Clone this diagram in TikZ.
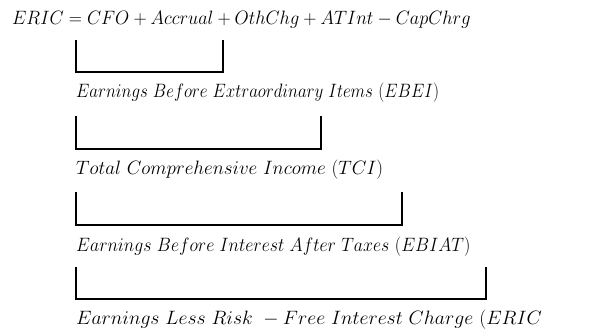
\documentclass[tikz,border=0pt]{standalone}
\usepackage{graphicx}
\begin{document}
\begin{tikzpicture}[x=1pt,y=-1pt,
  eq/.style={anchor=base west,inner sep=0pt,font=\LARGE},
  brk/.style={line width=1.4pt,line cap=rect}]
\useasboundingbox (0,0) rectangle (608,334);
\clip (0,0) rectangle (608,334);
\node[eq] (l1) at (12,25) {\scalebox{1.058}[1.12]{$ERIC = CFO + Accrual + OthChg + ATInt - CapChrg$}};
\node[eq] (l2) at (76,98) {\scalebox{0.98}[1.12]{$Earnings\ Before\ Extraordinary\ Items\ (EBEI)$}};
\node[eq] (l3) at (76,175) {\scalebox{1.10}[1.12]{$Total\ Comprehensive\ Income\ (TCI)$}};
\node[eq] (l4) at (76,251) {\scalebox{1.03}[1.12]{$Earnings\ Before\ Interest\ After\ Taxes\ (EBIAT)$}};
\node[eq] (l5) at (76,324) {\scalebox{1.14}[1.12]{$Earnings\ Less\ Risk\ - Free\ Interest\ Charge\ (ERIC$}};
\coordinate (a1) at (76,41);  \coordinate (b1) at (223,41);
\coordinate (a2) at (76,117); \coordinate (b2) at (321,117);
\coordinate (a3) at (76,193); \coordinate (b3) at (402,193);
\coordinate (a4) at (76,268); \coordinate (b4) at (486,268);
\draw[brk] (a1) -- ++(0,31) -| (b1);
\draw[brk] (a2) -- ++(0,32) -| (b2);
\draw[brk] (a3) -- ++(0,32) -| (b3);
\draw[brk] (a4) -- ++(0,31) -| (b4);
\end{tikzpicture}
\end{document}
